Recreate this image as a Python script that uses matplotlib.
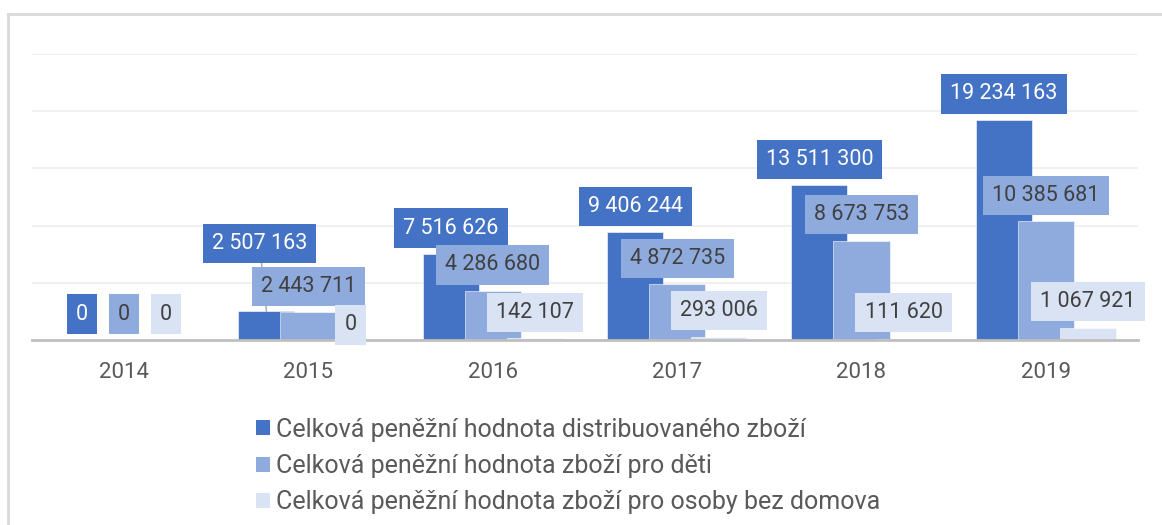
import matplotlib
matplotlib.use("Agg")
import matplotlib.pyplot as plt
from matplotlib.patches import Patch
import numpy as np

years = ["2014", "2015", "2016", "2017", "2018", "2019"]
total = [0, 2507163, 7516626, 9406244, 13511300, 19234163]
children = [0, 2443711, 4286680, 4872735, 8673753, 10385681]
homeless = [0, 0, 142107, 293006, 111620, 1067921]
series_names = [
    "Celková peněžní hodnota distribuovaného zboží",
    "Celková peněžní hodnota zboží pro děti",
    "Celková peněžní hodnota zboží pro osoby bez domova",
]

colors = ["#4472C4", "#8FAADC", "#DAE3F3"]
text_colors = ["white", "#404040", "#404040"]
grey = "#595959"

plt.rcParams['font.family'] = ['Roboto', 'DejaVu Sans']

W, H = 1162, 525
fig = plt.figure(figsize=(W / 100, H / 100), dpi=100)
fig.patch.set_facecolor("white")

# outer border (only top and left visible)
fig.add_artist(plt.Line2D([8 / W, 1.0], [1 - 14 / H, 1 - 14 / H], color="#D9D9D9", lw=2, transform=fig.transFigure))
fig.add_artist(plt.Line2D([8 / W, 8 / W], [1 - 14 / H, 0], color="#D9D9D9", lw=2, transform=fig.transFigure))

ax_l, ax_r = 32 / W, 1138 / W
ax_b, ax_t = 1 - 340 / H, 1 - 54 / H
ax = fig.add_axes([ax_l, ax_b, ax_r - ax_l, ax_t - ax_b])
ax.set_xlim(0, len(years))
ax.set_ylim(0, 25_000_000)
ax.set_yticks(np.arange(0, 25_000_001, 5_000_000))
ax.yaxis.set_tick_params(length=0, labelleft=False)
ax.grid(axis="y", color="#EFEFEF", lw=1.3)
ax.set_axisbelow(True)
for s in ["top", "right", "left"]:
    ax.spines[s].set_visible(False)
ax.spines["bottom"].set_color("#BFBFBF")
ax.spines["bottom"].set_linewidth(2)
ax.spines["bottom"].set_zorder(5)

x = np.arange(len(years)) + 0.5
ax.set_xticks(x)
ax.set_xticklabels(years, fontsize=16, color=grey)
ax.tick_params(axis="x", length=0, pad=16)

bw = 0.304
off = 0.228
series = [total, children, homeless]
# label offsets in pixels (dx, dy) relative to the default position above bar
adjust = {(0, 1): (-7, 42), (2, 1): (0, -11)}
for k, vals in enumerate(series):
    xs = x + (k - 1) * off
    ax.bar(xs, vals, width=bw, color=colors[k], edgecolor="white", linewidth=0.4, zorder=2 + k)
    for i, v in enumerate(vals):
        dx, dy = adjust.get((k, i), (0, 0))
        lbl = f"{v:,}".replace(",", " ")
        arrow = None
        if (k, i) == (0, 1):
            arrow = dict(arrowstyle="-", color="#A6A6A6", lw=1, shrinkA=0, shrinkB=0)
        ax.annotate(lbl, xy=(xs[i], v), xytext=(dx, 26 + dy), textcoords="offset pixels",
                    ha="center", va="center", fontsize=15.5, color=text_colors[k],
                    bbox=dict(boxstyle="square,pad=0.42", fc=colors[k], ec="none"),
                    arrowprops=arrow, zorder=10 + k, annotation_clip=False)

handles = [Patch(facecolor=c, edgecolor="none") for c in colors]
fig.legend(handles, series_names, loc="center left", bbox_to_anchor=(256 / W, 1 - 466 / H),
           frameon=False, fontsize=18, labelcolor=grey, handlelength=0.55, handleheight=0.55,
           handletextpad=0.25, labelspacing=0.5, borderpad=0, borderaxespad=0)

fig.savefig("out.png", dpi=100)
